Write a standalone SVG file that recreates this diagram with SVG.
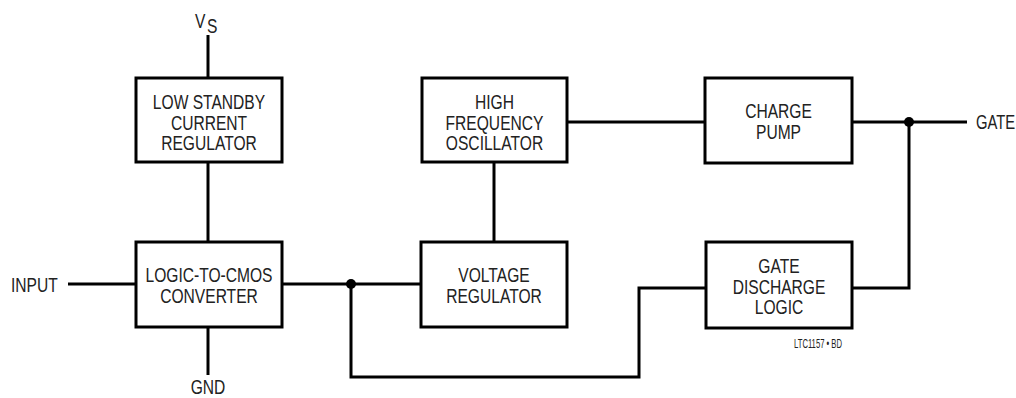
<svg xmlns="http://www.w3.org/2000/svg" width="1016" height="398" viewBox="0 0 1016 398">
<style>
.box{fill:#fff;stroke:#000;stroke-width:3}
.w{fill:none;stroke:#000;stroke-width:3}
text{font-family:"Liberation Sans",Arial,sans-serif;font-size:19.5px;fill:#222}
.c{text-anchor:middle}
.l{text-anchor:start}
.small{font-size:12px}
</style>
<rect width="1016" height="398" fill="#fff"/>
<g id="connectors">
<path class="w" d="M208 35V78"/>
<path class="w" d="M208 162V242"/>
<path class="w" d="M68 284H136"/>
<path class="w" d="M208 327V375"/>
<path class="w" d="M282 284H421"/>
<path class="w" d="M351 284V377H639V288H706"/>
<path class="w" d="M494 162V242"/>
<path class="w" d="M567 122H705"/>
<path class="w" d="M852 122H967"/>
<path class="w" d="M852 288H909V122"/>
<circle cx="351" cy="284" r="5" fill="#000"/>
<circle cx="909" cy="122" r="5" fill="#000"/>
</g>
<g id="vs">
<text class="l" transform="translate(195 28) scale(0.8 1)">V</text>
<text class="l" transform="translate(207 33) scale(0.8 1)" font-size="14">S</text>
</g>
<g id="input"><text class="l" transform="translate(11 292) scale(0.8 1)">INPUT</text></g>
<g id="gnd"><text class="c" transform="translate(208 394) scale(0.8 1)">GND</text></g>
<g id="gate"><text class="l" transform="translate(976 129) scale(0.76 1)">GATE</text></g>
<g id="regulator">
<rect class="box" x="136" y="78" width="146" height="84"/>
<text class="c" transform="translate(209 109) scale(0.8 1)">LOW STANDBY</text>
<text class="c" transform="translate(209 129.5) scale(0.8 1)">CURRENT</text>
<text class="c" transform="translate(209 150) scale(0.8 1)">REGULATOR</text>
</g>
<g id="converter">
<rect class="box" x="136" y="242" width="146" height="85"/>
<text class="c" transform="translate(209 282) scale(0.8 1)">LOGIC-TO-CMOS</text>
<text class="c" transform="translate(209 303) scale(0.8 1)">CONVERTER</text>
</g>
<g id="oscillator">
<rect class="box" x="422" y="78" width="145" height="84"/>
<text class="c" transform="translate(494.5 108.5) scale(0.8 1)">HIGH</text>
<text class="c" transform="translate(494.5 129.5) scale(0.8 1)">FREQUENCY</text>
<text class="c" transform="translate(494.5 150) scale(0.8 1)">OSCILLATOR</text>
</g>
<g id="voltage-regulator">
<rect class="box" x="421" y="242" width="146" height="85"/>
<text class="c" transform="translate(494 282) scale(0.8 1)">VOLTAGE</text>
<text class="c" transform="translate(494 303) scale(0.8 1)">REGULATOR</text>
</g>
<g id="charge-pump">
<rect class="box" x="705" y="78" width="147" height="85"/>
<text class="c" transform="translate(778.5 118) scale(0.8 1)">CHARGE</text>
<text class="c" transform="translate(778.5 139) scale(0.8 1)">PUMP</text>
</g>
<g id="discharge">
<rect class="box" x="706" y="242" width="146" height="86"/>
<text class="c" transform="translate(779 273) scale(0.8 1)">GATE</text>
<text class="c" transform="translate(779 294) scale(0.8 1)">DISCHARGE</text>
<text class="c" transform="translate(779 314) scale(0.8 1)">LOGIC</text>
</g>
<g id="caption"><text class="l small" transform="translate(794 348) scale(0.64 1)">LTC1157 • BD</text></g>
</svg>
